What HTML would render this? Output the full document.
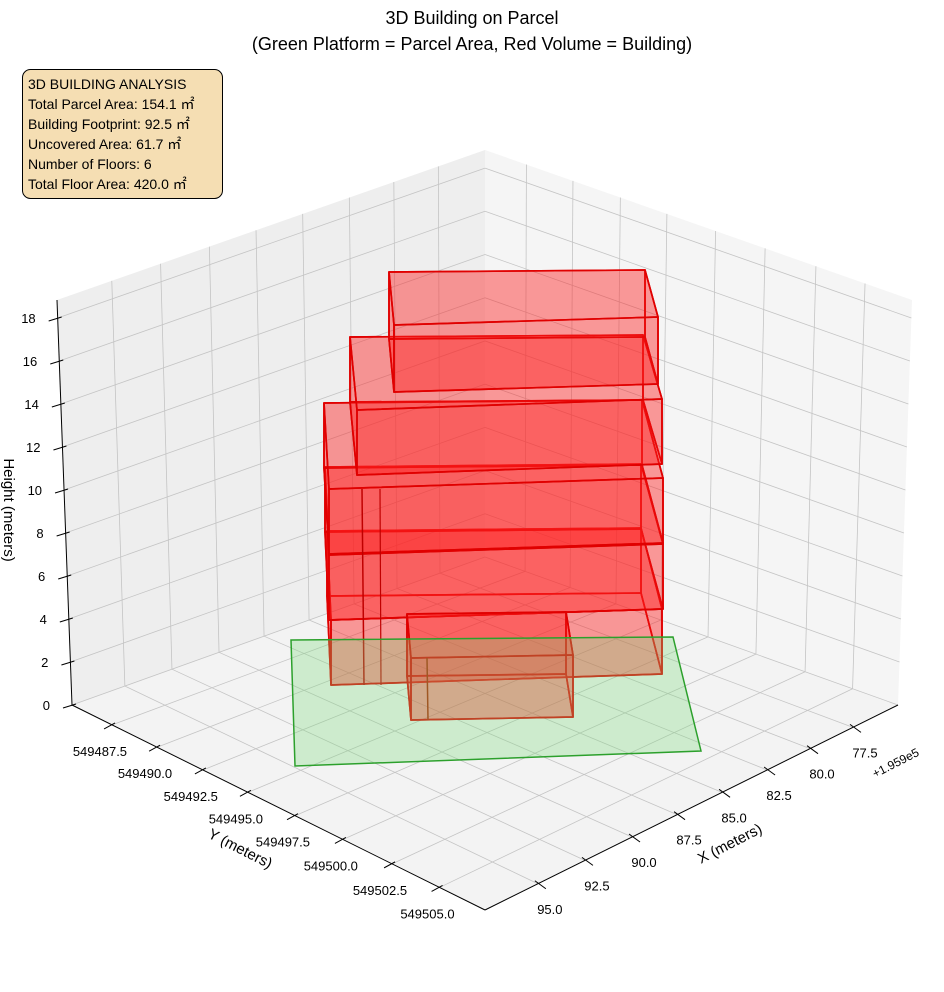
<!DOCTYPE html>
<html><head><meta charset="utf-8"><style>
html,body{margin:0;padding:0;background:#fff;}
svg{display:block;font-family:"Liberation Sans","Noto Sans CJK JP",sans-serif;}
</style></head><body>
<svg id="s" width="944" height="992" viewBox="0 0 944 992" xmlns="http://www.w3.org/2000/svg">
<rect width="944" height="992" fill="#fff"/>
<g id="panes"></g>
<g id="grid" stroke="#c4c4c4" stroke-width="0.8" fill="none"></g>
<g id="bld"></g>
<g id="axes" stroke="#000" stroke-width="1" fill="none"></g>
<g id="labels" font-size="13" fill="#000"></g>
<text x="472" y="24" font-size="18" text-anchor="middle">3D Building on Parcel</text>
<text x="472" y="50" font-size="18" text-anchor="middle">(Green Platform = Parcel Area, Red Volume = Building)</text>
<rect x="22.5" y="69.5" width="200" height="129" rx="8" fill="#f5deb3" stroke="#000" stroke-width="1"/>
<g font-size="14" fill="#000">
<text x="28" y="89">3D BUILDING ANALYSIS</text>
<text x="28" y="109">Total Parcel Area: 154.1 ㎡</text>
<text x="28" y="129">Building Footprint: 92.5 ㎡</text>
<text x="28" y="149">Uncovered Area: 61.7 ㎡</text>
<text x="28" y="169">Number of Floors: 6</text>
<text x="28" y="189">Total Floor Area: 420.0 ㎡</text>
</g>
<text transform="translate(4,510) rotate(90)" font-size="15" text-anchor="middle">Height (meters)</text>
<text transform="translate(238,853) rotate(27)" font-size="15" text-anchor="middle">Y (meters)</text>
<text transform="translate(732,848) rotate(-27)" font-size="15" text-anchor="middle">X (meters)</text>
<text transform="translate(875,778) rotate(-27)" font-size="12">+1.959e5</text>
</svg>
<script>
var NS="http://www.w3.org/2000/svg";
function el(p,t,a,txt){var e=document.createElementNS(NS,t);for(var k in a)e.setAttribute(k,a[k]);if(txt!==undefined)e.textContent=txt;document.getElementById(p).appendChild(e);return e;}
function lerp(a,b,t){return [a[0]+(b[0]-a[0])*t,a[1]+(b[1]-a[1])*t];}
function pts(a){return a.map(function(p){return p[0]+","+p[1];}).join(" ");}
var L=[72,705],B=[485,557],R=[898,705],F=[485,910],Lt=[57,300],Bt=[485,150],Rt=[912,300];
el("panes","polygon",{points:pts([Lt,Bt,B,L]),fill:"#eeeeee"});
el("panes","polygon",{points:pts([Bt,Rt,R,B]),fill:"#f5f5f5"});
el("panes","polygon",{points:pts([L,B,R,F]),fill:"#f3f3f3"});
function line(g,a,b,extra){var o={x1:a[0],y1:a[1],x2:b[0],y2:b[1]};if(extra)for(var k in extra)o[k]=extra[k];return el(g,"line",o);}
var sx=[0.128,0.242,0.356,0.465,0.574,0.683,0.787,0.891];
var ty=[0.097,0.206,0.317,0.426,0.54,0.656,0.775,0.89];
for(var i=0;i<8;i++){
  var a=lerp(F,R,sx[i]),b=lerp(L,B,sx[i]);line("grid",a,b);
  line("grid",b,lerp(Lt,Bt,sx[i]));
  var c=lerp(L,F,ty[i]),d=lerp(B,R,ty[i]);line("grid",c,d);
  line("grid",d,lerp(Bt,Rt,ty[i]));
}
var ZS=21.5;
for(var k=0;k<=18;k+=2){
  var f=k*ZS/405;
  var pl=lerp(L,Lt,f),pb=lerp(B,Bt,f),pr=lerp(R,Rt,f);
  line("grid",pl,pb);line("grid",pb,pr);
}
line("axes",L,Lt);line("axes",L,F);line("axes",F,R);
var xl=["95.0","92.5","90.0","87.5","85.0","82.5","80.0","77.5"];
var yl=["549487.5","549490.0","549492.5","549495.0","549497.5","549500.0","549502.5","549505.0"];
for(var i=0;i<8;i++){
  var p=lerp(F,R,sx[i]);line("axes",[p[0]-3,p[1]-3],[p[0]+8,p[1]+5]);
  el("labels","text",{x:p[0]+12,y:p[1]+30,"text-anchor":"middle"},xl[i]);
  var q=lerp(L,F,ty[i]);line("axes",[q[0]+3,q[1]-2],[q[0]-8,q[1]+4]);
  el("labels","text",{x:q[0]+15,y:q[1]+31,"text-anchor":"end"},yl[i]);
}
for(var k=0;k<=18;k+=2){
  var f=k*ZS/405,p=lerp(L,Lt,f);
  line("axes",[p[0]+4,p[1]-1],[p[0]-9,p[1]+3]);
  el("labels","text",{x:p[0]-22,y:p[1]+5,"text-anchor":"end"},String(k));
}
function prism(top,h){
  var bot=top.map(function(p){return [p[0],p[1]+h];});
  var faces=[[top[0],top[1],bot[1],bot[0]],[top[0],top[3],bot[3],bot[0]],[top[1],top[2],bot[2],bot[1]],bot,[top[3],top[2],bot[2],bot[3]],top];
  faces.forEach(function(fc){el("bld","polygon",{points:pts(fc),fill:"rgba(255,30,30,0.25)",stroke:"#e00000","stroke-width":1.7,"stroke-linejoin":"round"});});
}
prism([[327,531],[641,528],[662,609],[331,620]],65);
prism([[325,467],[641,464],[663,544],[329,555]],65);
prism([[324,403],[642,400],[663,478],[329,489]],65);
prism([[350,337],[643,335],[662,399],[357,410]],65);
prism([[389,272],[645,270],[658,317],[394,325]],67);
prism([[407,614],[566,612],[573,655],[411,658]],62);
el("bld","line",{x1:362,y1:489,x2:364,y2:685,stroke:"#c00000","stroke-width":1.5});
el("bld","line",{x1:380,y1:489,x2:381,y2:685,stroke:"#c00000","stroke-width":1.2});
el("bld","line",{x1:427,y1:658,x2:428,y2:720,stroke:"#b02000","stroke-width":1.5});
el("bld","polygon",{points:"291,640 673,637 701,751 295,766",fill:"rgba(120,220,120,0.3)",stroke:"#2ca02c","stroke-width":1.5});
</script>
</body></html>
